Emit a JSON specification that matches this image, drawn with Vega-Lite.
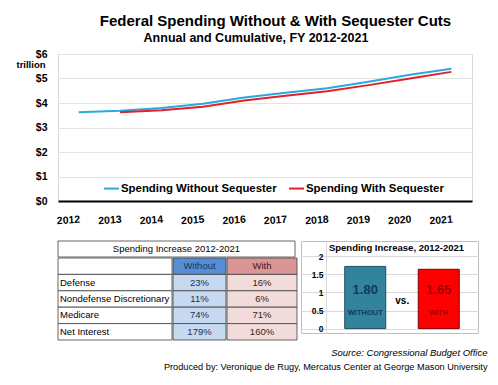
{
  "$schema": "https://vega.github.io/schema/vega-lite/v6.json",
  "background": "white",
  "padding": {"left": 15, "top": 14, "right": 5, "bottom": 5},
  "bounds": "flush",
  "spacing": 40,
  "title": {
    "text": "Federal Spending Without & With Sequester Cuts",
    "fontSize": 15, "fontWeight": "bold", "anchor": "middle", "dx": 24, "offset": 2, "color": "black"
  },
  "datasets": {
    "spending": [
      {"year": "2012", "series": "Spending Without Sequester", "value": 3.62},
      {"year": "2013", "series": "Spending Without Sequester", "value": 3.68},
      {"year": "2014", "series": "Spending Without Sequester", "value": 3.8},
      {"year": "2015", "series": "Spending Without Sequester", "value": 3.97},
      {"year": "2016", "series": "Spending Without Sequester", "value": 4.22},
      {"year": "2017", "series": "Spending Without Sequester", "value": 4.42},
      {"year": "2018", "series": "Spending Without Sequester", "value": 4.6},
      {"year": "2019", "series": "Spending Without Sequester", "value": 4.87},
      {"year": "2020", "series": "Spending Without Sequester", "value": 5.15},
      {"year": "2021", "series": "Spending Without Sequester", "value": 5.4},
      {"year": "2013", "series": "Spending With Sequester", "value": 3.62},
      {"year": "2014", "series": "Spending With Sequester", "value": 3.7},
      {"year": "2015", "series": "Spending With Sequester", "value": 3.85},
      {"year": "2016", "series": "Spending With Sequester", "value": 4.1},
      {"year": "2017", "series": "Spending With Sequester", "value": 4.3},
      {"year": "2018", "series": "Spending With Sequester", "value": 4.48},
      {"year": "2019", "series": "Spending With Sequester", "value": 4.73},
      {"year": "2020", "series": "Spending With Sequester", "value": 5.0},
      {"year": "2021", "series": "Spending With Sequester", "value": 5.27}
    ],
    "tableTitle": [{"title": "Spending Increase 2012-2021"}],
    "table": [
      {"row": "Header", "label": "", "without": "Without", "with": "With"},
      {"row": "Defense", "label": "Defense", "without": "23%", "with": "16%"},
      {"row": "Nondefense Discretionary", "label": "Nondefense Discretionary", "without": "11%", "with": "6%"},
      {"row": "Medicare", "label": "Medicare", "without": "74%", "with": "71%"},
      {"row": "Net Interest", "label": "Net Interest", "without": "179%", "with": "160%"}
    ],
    "increase": [
      {"cat": "WITHOUT", "value": 1.72, "label": "1.80"},
      {"cat": "WITH", "value": 1.64, "label": "1.65"}
    ]
  },
  "vconcat": [
    {
      "width": 414,
      "height": 147,
      "view": {"stroke": "#d9d9d9"},
      "title": {"text": "Annual and Cumulative, FY 2012-2021", "fontSize": 12.5, "fontWeight": "bold", "anchor": "middle", "dx": -9, "offset": 5, "color": "black"},
      "data": {"name": "spending"},
      "mark": {"type": "line", "strokeWidth": 2},
      "encoding": {
        "x": {
          "field": "year", "type": "ordinal",
          "scale": {"type": "point", "padding": 0.5},
          "axis": {"title": null, "labelAngle": -4, "labelAlign": "center", "labelBaseline": "top", "labelFontWeight": "bold", "labelFontSize": 10.5, "labelOffset": -11, "labelPadding": 14, "ticks": false, "tickSize": 0, "domainColor": "black", "domainWidth": 2, "grid": false, "labelColor": "black"}
        },
        "y": {
          "field": "value", "type": "quantitative",
          "scale": {"domain": [0, 6], "nice": false},
          "axis": {"values": [0, 1, 2, 3, 4, 5, 6], "labelExpr": "'$' + datum.value", "labelFontWeight": "bold", "labelFontSize": 10.5, "labelPadding": 11, "ticks": false, "tickSize": 0, "domain": false, "grid": true, "gridColor": "#e4e4e4", "labelColor": "black",
            "title": "trillion", "titleAngle": 0, "titleAlign": "right", "titleBaseline": "middle", "titleX": -13, "titleY": 10, "titleFontSize": 9.5, "titleFontWeight": "bold", "titleColor": "black"}
        },
        "color": {
          "field": "series", "type": "nominal",
          "scale": {"domain": ["Spending Without Sequester", "Spending With Sequester"], "range": ["#29a9e0", "#e0202a"]},
          "legend": {"orient": "none", "legendX": 45, "legendY": 126, "direction": "horizontal", "title": null, "symbolType": "stroke", "symbolSize": 225, "symbolStrokeWidth": 2, "labelFontSize": 11.4, "labelFontWeight": "bold", "labelOffset": 1, "labelLimit": 300, "columnPadding": 8, "labelColor": "black"}
        }
      }
    },
    {
      "spacing": 2,
      "title": {
        "text": "Source: Congressional Budget Office",
        "subtitle": "Produced by: Veronique de Rugy, Mercatus Center at George Mason University",
        "orient": "bottom", "anchor": "end", "dx": 9, "offset": 8,
        "fontSize": 9.5, "fontStyle": "italic", "fontWeight": "normal", "color": "black",
        "subtitleFontSize": 9.2, "subtitlePadding": 5, "subtitleColor": "black", "subtitleFontStyle": "normal"
      },
      "hconcat": [
        {
          "spacing": -3,
          "vconcat": [
            {
              "width": 237, "height": 16,
              "view": {"stroke": null},
              "data": {"name": "tableTitle"},
              "layer": [
                {"mark": {"type": "rect", "x": 0, "x2": "width", "y": 0, "y2": "height", "fill": "white", "stroke": "#404040", "strokeWidth": 0.8}},
                {"mark": {"type": "text", "align": "center", "baseline": "middle", "fontSize": 9.5, "color": "black"},
                 "encoding": {
                   "x": {"datum": "mid", "type": "nominal", "axis": null, "scale": {"type": "point", "padding": 0.5}},
                   "y": {"datum": "mid", "type": "nominal", "axis": null, "scale": {"type": "point", "padding": 0.5}},
                   "text": {"field": "title"}}}
              ]
            },
            {
              "spacing": -4,
              "hconcat": [
                {
                  "width": 114, "height": 82,
                  "view": {"stroke": null},
                  "data": {"name": "table"},
                  "encoding": {"y": {"field": "row", "type": "nominal", "sort": null, "axis": null, "scale": {"paddingInner": 0, "paddingOuter": 0}}},
                  "layer": [
                    {"mark": {"type": "rect", "x": 0, "x2": "width", "fill": "white", "stroke": "#404040", "strokeWidth": 0.8}},
                    {"mark": {"type": "text", "x": 2, "align": "left", "baseline": "middle", "fontSize": 9.5, "color": "black"},
                     "encoding": {"text": {"field": "label"}}}
                  ]
                },
                {
                  "width": 53, "height": 82,
                  "view": {"stroke": null},
                  "data": {"name": "table"},
                  "encoding": {"y": {"field": "row", "type": "nominal", "sort": null, "axis": null, "scale": {"paddingInner": 0, "paddingOuter": 0}}},
                  "layer": [
                    {"mark": {"type": "rect", "x": 0, "x2": "width", "stroke": "#404040", "strokeWidth": 0.8},
                     "encoding": {"fill": {"condition": {"test": "datum.row === 'Header'", "value": "#558ed5"}, "value": "#c6d9f1"}}},
                    {"mark": {"type": "text", "align": "center", "baseline": "middle", "fontSize": 9.5},
                     "encoding": {
                       "x": {"datum": "mid", "type": "nominal", "axis": null, "scale": {"type": "point", "padding": 0.5}},
                       "text": {"field": "without"},
                       "color": {"condition": {"test": "datum.row === 'Header'", "value": "#17365d"}, "value": "#1f2f4f"}}}
                  ]
                },
                {
                  "width": 70, "height": 82,
                  "view": {"stroke": null},
                  "data": {"name": "table"},
                  "encoding": {"y": {"field": "row", "type": "nominal", "sort": null, "axis": null, "scale": {"paddingInner": 0, "paddingOuter": 0}}},
                  "layer": [
                    {"mark": {"type": "rect", "x": 0, "x2": "width", "stroke": "#404040", "strokeWidth": 0.8},
                     "encoding": {"fill": {"condition": {"test": "datum.row === 'Header'", "value": "#d99694"}, "value": "#f2dcdb"}}},
                    {"mark": {"type": "text", "align": "center", "baseline": "middle", "fontSize": 9.5, "color": "#3a2020"},
                     "encoding": {
                       "x": {"datum": "mid", "type": "nominal", "axis": null, "scale": {"type": "point", "padding": 0.5}},
                       "text": {"field": "with"}}}
                  ]
                }
              ]
            }
          ]
        },
        {
          "width": 177, "height": 92,
          "view": {"stroke": "#bfbfbf"},
          "title": {"text": "Spending Increase, 2012-2021", "fontSize": 9.5, "fontWeight": "bold", "anchor": "middle", "dx": 7, "offset": -11, "color": "black"},
          "data": {"name": "increase"},
          "encoding": {
            "x": {"field": "cat", "type": "nominal", "sort": null, "axis": null,
                  "scale": {"type": "band", "paddingInner": 0.442, "paddingOuter": 0.425, "align": 0.7}}
          },
          "layer": [
            {
              "mark": {"type": "bar", "strokeWidth": 1},
              "encoding": {
                "y": {"field": "value", "type": "quantitative",
                      "scale": {"domain": [-0.122, 2.423], "nice": false, "zero": false},
                      "axis": {"values": [0, 0.5, 1, 1.5, 2], "format": ".1~f", "title": null, "offset": -25, "labelPadding": 3, "labelOverlap": false, "labelFlush": false, "ticks": false, "tickSize": 0, "domainColor": "#d9d9d9", "grid": true, "gridColor": "#d9d9d9", "labelFontSize": 8.5, "labelFontWeight": "bold", "labelColor": "black"}},
                "y2": {"datum": 0},
                "fill": {"field": "cat", "type": "nominal", "scale": {"domain": ["WITHOUT", "WITH"], "range": ["#31849b", "#ff0000"]}, "legend": null},
                "stroke": {"field": "cat", "type": "nominal", "scale": {"domain": ["WITHOUT", "WITH"], "range": ["#1f4e5f", "#7f0000"]}, "legend": null}
              }
            },
            {
              "mark": {"type": "text", "fontSize": 13, "fontWeight": "bold", "baseline": "middle"},
              "encoding": {
                "y": {"datum": 1.07, "type": "quantitative",
                      "axis": {"values": [0, 0.5, 1, 1.5, 2], "format": ".1~f", "title": null, "offset": -25, "labelPadding": 3, "labelOverlap": false, "labelFlush": false, "ticks": false, "tickSize": 0, "domainColor": "#d9d9d9", "grid": true, "gridColor": "#d9d9d9", "labelFontSize": 8.5, "labelFontWeight": "bold", "labelColor": "black"}},
                "text": {"field": "label"},
                "color": {"field": "cat", "type": "nominal", "scale": {"domain": ["WITHOUT", "WITH"], "range": ["#17365d", "#a00000"]}, "legend": null}
              }
            },
            {
              "mark": {"type": "text", "fontSize": 7.5, "fontWeight": "bold", "baseline": "middle"},
              "encoding": {
                "y": {"datum": 0.44, "type": "quantitative",
                      "axis": {"values": [0, 0.5, 1, 1.5, 2], "format": ".1~f", "title": null, "offset": -25, "labelPadding": 3, "labelOverlap": false, "labelFlush": false, "ticks": false, "tickSize": 0, "domainColor": "#d9d9d9", "grid": true, "gridColor": "#d9d9d9", "labelFontSize": 8.5, "labelFontWeight": "bold", "labelColor": "black"}},
                "text": {"field": "cat"},
                "color": {"field": "cat", "type": "nominal", "scale": {"domain": ["WITHOUT", "WITH"], "range": ["#17365d", "#a00000"]}, "legend": null}
              }
            },
            {
              "transform": [{"filter": "datum.cat === 'WITHOUT'"}],
              "mark": {"type": "text", "text": "vs.", "fontSize": 10, "fontWeight": "bold", "baseline": "middle", "dx": 37, "color": "black"},
              "encoding": {"y": {"datum": 0.77, "type": "quantitative",
                      "axis": {"values": [0, 0.5, 1, 1.5, 2], "format": ".1~f", "title": null, "offset": -25, "labelPadding": 3, "labelOverlap": false, "labelFlush": false, "ticks": false, "tickSize": 0, "domainColor": "#d9d9d9", "grid": true, "gridColor": "#d9d9d9", "labelFontSize": 8.5, "labelFontWeight": "bold", "labelColor": "black"}}}
            }
          ],
          "resolve": {"scale": {"color": "independent"}}
        }
      ]
    }
  ],
  "config": {
    "font": "Liberation Sans",
    "view": {"stroke": null},
    "title": {"color": "black"}
  }
}
